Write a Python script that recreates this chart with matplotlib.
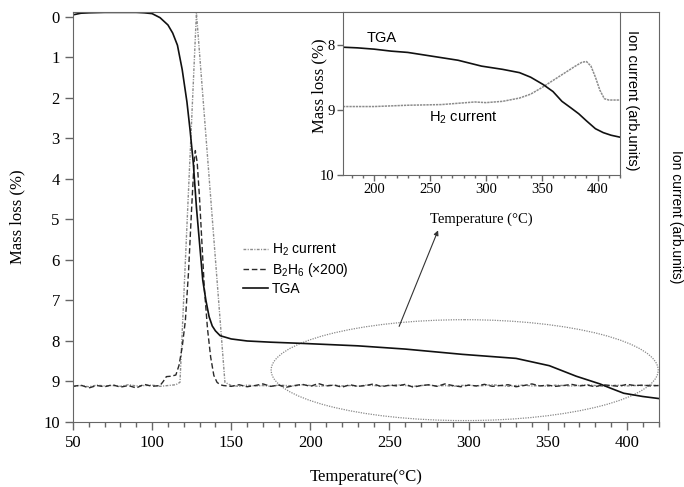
import matplotlib.pyplot as plt
import numpy as np
from matplotlib.patches import Ellipse

plt.rcParams['font.family'] = ['Liberation Serif', 'DejaVu Serif']
plt.rcParams['mathtext.default'] = 'regular'

# ---- main panel data ----
tga_T = [50, 55, 60, 70, 80, 90, 95, 100, 105, 110, 113, 116, 119, 122, 124,
         126, 128, 130, 132, 134, 136, 138, 140, 143, 150, 160, 175, 195, 230,
         260, 296, 330, 351, 368, 383, 390, 398, 410, 420]
tga_loss = [-0.05, -0.09, -0.1, -0.11, -0.11, -0.11, -0.1, -0.08, 0.02, 0.2,
            0.4, 0.7, 1.3, 2.1, 2.8, 3.6, 4.7, 5.6, 6.5, 7.0, 7.4, 7.63, 7.75,
            7.87, 7.95, 8.0, 8.03, 8.06, 8.12, 8.2, 8.33, 8.43, 8.61, 8.87,
            9.06, 9.17, 9.29, 9.37, 9.42]

h2_T_lo = np.arange(50, 116, 5)
h2_lo = [9.12, 9.1, 9.13, 9.09, 9.11, 9.1, 9.12, 9.08, 9.11, 9.1, 9.09, 9.12,
         9.1, 9.08]
h2_peak_T = [117.6, 128, 146]
h2_peak = [9.02, -0.1, 9.02]

base_T_hi = np.arange(150, 421, 5)
h2_hi = [9.1, 9.12, 9.09, 9.11, 9.1, 9.12, 9.09, 9.1, 9.11, 9.08, 9.1, 9.12,
         9.1, 9.09, 9.11, 9.1, 9.12, 9.09, 9.1, 9.11, 9.1, 9.08, 9.1, 9.12,
         9.1, 9.09, 9.11, 9.1, 9.12, 9.1, 9.09, 9.11, 9.1, 9.08, 9.1, 9.12,
         9.1, 9.09, 9.11, 9.1, 9.12, 9.09, 9.1, 9.11, 9.1, 9.08, 9.1, 9.12,
         9.1, 9.09, 9.11, 9.1, 9.1, 9.09, 9.1]

b2h6_T_lo = np.arange(50, 106, 5)
b2h6_lo = [9.12, 9.09, 9.16, 9.1, 9.13, 9.08, 9.14, 9.1, 9.16, 9.07, 9.12, 9.1]
b2h6_peak_T = [107, 109, 112, 115, 117, 119, 121, 123, 125, 126.5, 127.3,
               128.5, 130, 131.5, 133, 135, 137, 139, 141, 143, 145]
b2h6_peak = [9.0, 8.88, 8.87, 8.84, 8.6, 8.15, 7.5, 6.3, 4.7, 3.6, 3.3, 3.6,
             4.5, 5.6, 6.7, 7.7, 8.4, 8.85, 9.02, 9.08, 9.1]
b2h6_hi = [9.12, 9.08, 9.13, 9.1, 9.06, 9.12, 9.09, 9.14, 9.1, 9.07, 9.12,
           9.05, 9.11, 9.09, 9.14, 9.08, 9.12, 9.1, 9.06, 9.13, 9.09, 9.11,
           9.07, 9.14, 9.1, 9.08, 9.12, 9.06, 9.1, 9.13, 9.09, 9.11, 9.07,
           9.12, 9.1, 9.08, 9.13, 9.1, 9.06, 9.11, 9.09, 9.12, 9.1, 9.07,
           9.11, 9.09, 9.13, 9.08, 9.1, 9.12, 9.07, 9.1, 9.09, 9.11, 9.1]

# ---- inset data ----
ins_tga_T = [172, 185, 200, 215, 230, 245, 260, 275, 296, 315, 330, 340, 351,
             360, 368, 376, 383, 390, 398, 405, 412, 420]
ins_tga = [8.04, 8.05, 8.07, 8.1, 8.12, 8.16, 8.2, 8.24, 8.33, 8.38, 8.43,
           8.5, 8.61, 8.72, 8.87, 8.97, 9.06, 9.17, 9.29, 9.35, 9.39, 9.42]
ins_h2_T = [172, 200, 230, 260, 290, 300, 315, 330, 340, 350, 360, 370, 380,
            386, 390, 394, 398, 402, 406, 410, 420]
ins_h2 = [8.95, 8.95, 8.93, 8.92, 8.88, 8.89, 8.87, 8.82, 8.76, 8.66, 8.55,
          8.44, 8.33, 8.27, 8.26, 8.33, 8.5, 8.7, 8.83, 8.85, 8.85]

W, H = 684, 487
fig = plt.figure(figsize=(W / 100, H / 100), dpi=100)

spine_col = '#666666'
h2_col = '#8c8c8c'
h2_ls = (0, (2, 1, 0.8, 1))
b_col = '#2a2a2a'


def px_axes(l, t, r, b):
    return fig.add_axes([l / W, 1 - b / H, (r - l) / W, (b - t) / H])


ax = px_axes(73, 12, 658.5, 422)
ax.plot(np.r_[h2_T_lo, h2_peak_T, base_T_hi], np.r_[h2_lo, h2_peak, h2_hi],
        color=h2_col, lw=1.0, ls=h2_ls, label='H$_2$ current')
ax.plot(np.r_[b2h6_T_lo, b2h6_peak_T, base_T_hi],
        np.r_[b2h6_lo, b2h6_peak, b2h6_hi],
        color=b_col, lw=1.0, ls=(0, (4, 2)), label='B$_2$H$_6$ (×200)')
ax.plot(tga_T, tga_loss, color='#111111', lw=1.2, label='TGA')

ax.set_xlim(50, 420)
ax.set_ylim(10, -0.12)
ax.set_xticks(np.arange(50, 401, 50))
ax.set_xticks(np.arange(50, 421, 10), minor=True)
ax.set_yticks(np.arange(0, 11, 1))
ax.tick_params(which='major', direction='out', length=6, width=1,
               color=spine_col, labelsize=12)
ax.tick_params(which='minor', direction='out', length=3.5, width=1,
               color=spine_col)
ax.tick_params(axis='y', right=False)
for s in ax.spines.values():
    s.set_color(spine_col)
ax.set_xlabel('Temperature(°C)', fontsize=12)
ax.xaxis.set_label_coords(0.5, -0.115)
ax.set_ylabel('Mass loss (%)', fontsize=12)
ax.yaxis.set_label_coords(-0.082, 0.5)

leg = ax.legend(loc='upper left', bbox_to_anchor=(243 / W, 1 - 242 / H),
                bbox_transform=fig.transFigure, frameon=False,
                prop={'family': 'Liberation Sans', 'size': 10},
                handlelength=1.8, handletextpad=0.3, labelspacing=0.2,
                borderpad=0, borderaxespad=0)

ell = Ellipse((297.5, 8.72), 244.6, 2.49, fill=False, ls=(0, (1, 1)),
              lw=0.9, color='#888888')
ax.add_patch(ell)
ax.annotate('', xy=(280.7, 5.27), xytext=(256.1, 7.64),
            arrowprops=dict(arrowstyle='-|>', lw=0.8, color='#333333',
                            mutation_scale=7, shrinkA=0, shrinkB=0))

fig.text(676 / W, 1 - 217 / H, 'Ion current (arb.units)', rotation=-90,
         ha='center', va='center', family='Liberation Sans', fontsize=10)

# ---- inset ----
ins = px_axes(343, 12, 620, 175)
ins.plot(ins_h2_T, ins_h2, color=h2_col, lw=1.1, ls=(0, (1.5, 0.6)))
ins.plot(ins_tga_T, ins_tga, color='#111111', lw=1.2)
ins.set_xlim(172, 420)
ins.set_ylim(10, 7.5)
ins.set_xticks(np.arange(200, 401, 50))
ins.set_xticks(np.arange(180, 421, 10), minor=True)
ins.set_yticks([8, 9, 10])
ins.tick_params(which='major', direction='out', length=4, width=1,
                color=spine_col, labelsize=10.5, pad=2)
ins.tick_params(which='minor', direction='out', length=2.5, width=1,
                color=spine_col)
for s in ins.spines.values():
    s.set_color(spine_col)
ins.set_xlabel('Temperature (°C)', fontsize=10.5)
ins.xaxis.set_label_coords(0.5, -0.23)
ins.set_ylabel('Mass loss (%)', fontsize=12)
ins.yaxis.set_label_coords(-0.058, 0.55)
ins.text(207, 7.9, 'TGA', family='Liberation Sans', fontsize=10.5,
         ha='center', va='center')
ins.text(280, 9.13, 'H$_2$ current', family='Liberation Sans',
         fontsize=10.5, ha='center', va='center')
fig.text(632 / W, 1 - 100 / H, 'Ion current (arb.units)', rotation=-90,
         ha='center', va='center', family='Liberation Sans', fontsize=10.5)

fig.savefig('out.png', dpi=100)
